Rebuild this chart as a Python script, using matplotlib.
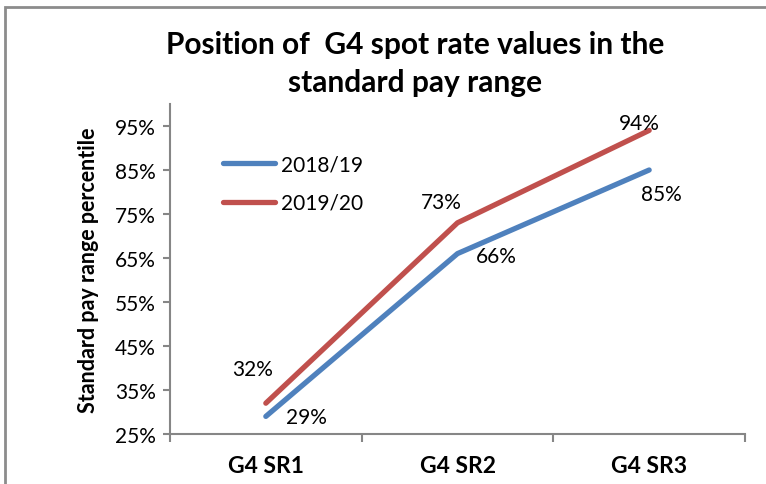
import matplotlib
matplotlib.use('Agg')
from matplotlib import pyplot as plt
from matplotlib.patches import Rectangle
import numpy as np

plt.rcParams['font.family'] = ['Lato', 'DejaVu Sans']

categories = ['G4 SR1', 'G4 SR2', 'G4 SR3']
series_names = ['2018/19', '2019/20']
values_1819 = [0.29, 0.66, 0.85]
values_1920 = [0.32, 0.73, 0.94]
yticks = [0.25, 0.35, 0.45, 0.55, 0.65, 0.75, 0.85, 0.95]

blue = '#4F81BD'
red = '#C0504D'
axis_grey = '#868686'

# ----------------------------------------------------------------------------------------------------
fig = plt.figure(figsize = (7.66, 4.85), dpi = 100)
ax = fig.add_axes([170 / 766, 50 / 485, 575 / 766, 330 / 485])

x = np.arange(len(categories)) + 0.5
ax.plot(x, values_1819, color = blue, lw = 3.8, solid_capstyle = 'round', label = series_names[0])
ax.plot(x, values_1920, color = red, lw = 3.8, solid_capstyle = 'round', label = series_names[1])

# data labels, offsets in pixels from the point
offs_1819 = [(41, -1), (39, -2), (12, -24)]
offs_1920 = [(-13, 34), (-16, 21), (-10, 7)]
for xi, v, o in zip(x, values_1819, offs_1819):
    ax.annotate('{0:.0f}%'.format(v * 100), (xi, v), xytext = o, textcoords = 'offset pixels',
                ha = 'center', va = 'center', fontsize = 15)
for xi, v, o in zip(x, values_1920, offs_1920):
    ax.annotate('{0:.0f}%'.format(v * 100), (xi, v), xytext = o, textcoords = 'offset pixels',
                ha = 'center', va = 'center', fontsize = 15)

ax.set_xlim(0, len(categories))
ax.set_ylim(0.25, 1.0)
ax.set_yticks(yticks)
ax.set_yticklabels(['{0:.0f}%'.format(t * 100) for t in yticks], fontsize = 15)
ax.set_xticks(np.arange(len(categories) + 1))
ax.set_xticklabels([])
ax.set_xticks(x, minor = True)
ax.set_xticklabels(categories, minor = True, fontsize = 16.5, fontweight = 'bold')
ax.tick_params(axis = 'x', which = 'minor', length = 0, pad = 15)
ax.tick_params(axis = 'x', which = 'major', length = 6, color = axis_grey, width = 1.5)
ax.tick_params(axis = 'y', length = 5, color = axis_grey, width = 1.5, pad = 5)

for side in ['top', 'right']:
    ax.spines[side].set_visible(False)
for side in ['left', 'bottom']:
    ax.spines[side].set_color(axis_grey)
    ax.spines[side].set_linewidth(1.5)

ax.set_ylabel('Standard pay range percentile', fontsize = 15.5, fontweight = 'bold', labelpad = 12)

ax.legend(loc = 'upper left', bbox_to_anchor = (0.06, 0.905), frameon = False, fontsize = 15,
          handlelength = 2.5, handletextpad = 0.25, labelspacing = 0.9)

fig.text(415 / 766, 1 - 64 / 485, 'Position of  G4 spot rate values in the\nstandard pay range',
         ha = 'center', va = 'center', fontsize = 21.5, fontweight = 'bold', linespacing = 1.45)

fig.patches.append(Rectangle((5 / 766, -0.1), 1.2, 1 - 8 / 485 + 0.1, transform = fig.transFigure,
                             fill = False, edgecolor = '#8c8c8c', lw = 2))

plt.savefig('out.png', dpi = 100)
